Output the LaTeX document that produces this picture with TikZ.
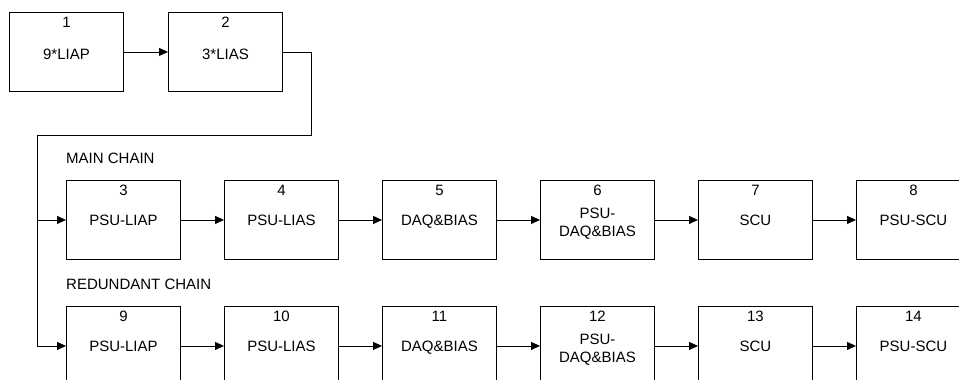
\documentclass[tikz,border=0pt]{standalone}
\usepackage{fontspec}
\setmainfont{Liberation Sans}
\usetikzlibrary{arrows.meta}
\newcommand{\bxt}[2]{\raisebox{#1}[\height][\depth]{\begin{tabular}{@{}c@{}}#2\end{tabular}}}
\tikzset{
  blk/.style={draw=black, line width=0.9pt, minimum width=114pt, minimum height=79pt,
    inner sep=0pt, font=\fontsize{15}{18}\selectfont},
  num/.style={label={[anchor=north, inner sep=0pt, yshift=-5pt, font=\fontsize{15}{18}\selectfont]north:#1}},
  conn/.style={line width=0.9pt, -{Triangle[length=9pt,width=8pt]}},
  chainlbl/.style={anchor=west, inner sep=0pt, font=\fontsize{15}{18}\selectfont}
}
\begin{document}
\begin{tikzpicture}[x=1pt,y=1pt]
\useasboundingbox (0,0) rectangle (959,-380);
\clip (0,0) rectangle (959,-380);
\fill[white] (0,0) rectangle (959,-380);
% top row
\node[blk, num=1, anchor=north west] (b1) at (9,-12) {\bxt{-4.2pt}{9*LIAP}};
\node[blk, num=2, anchor=north west] (b2) at (168,-12) {\bxt{-4.2pt}{3*LIAS}};
% labels
\node[chainlbl] (lmain) at (66,-158) {MAIN CHAIN};
\node[chainlbl] (lred) at (66,-284) {REDUNDANT CHAIN};
% main chain
\node[blk, num=3, anchor=north west] (b3) at (66,-180) {\bxt{-2.3pt}{PSU-LIAP}};
\node[blk, num=4, anchor=north west] (b4) at (224,-180) {\bxt{-2.3pt}{PSU-LIAS}};
\node[blk, num=5, anchor=north west] (b5) at (382,-180) {\bxt{-2.3pt}{DAQ\&BIAS}};
\node[blk, num=6, anchor=north west] (b6) at (540,-180) {\bxt{-4.2pt}{PSU-\\DAQ\&BIAS}};
\node[blk, num=7, anchor=north west] (b7) at (698,-180) {\bxt{-2.3pt}{SCU}};
\node[blk, num=8, anchor=north west] (b8) at (856,-180) {\bxt{-2.3pt}{PSU-SCU}};
% redundant chain
\node[blk, num=9, anchor=north west] (b9) at (66,-306) {\bxt{-2.3pt}{PSU-LIAP}};
\node[blk, num=10, anchor=north west] (b10) at (224,-306) {\bxt{-2.3pt}{PSU-LIAS}};
\node[blk, num=11, anchor=north west] (b11) at (382,-306) {\bxt{-2.3pt}{DAQ\&BIAS}};
\node[blk, num=12, anchor=north west] (b12) at (540,-306) {\bxt{-4.2pt}{PSU-\\DAQ\&BIAS}};
\node[blk, num=13, anchor=north west] (b13) at (698,-306) {\bxt{-2.3pt}{SCU}};
\node[blk, num=14, anchor=north west] (b14) at (856,-306) {\bxt{-2.3pt}{PSU-SCU}};
% connectors
\draw[conn] (b1) -- (b2);
\coordinate (cr) at (311,-135);
\coordinate (cl) at (37,-135);
\draw[conn] (b2.east) -| (cr) -- (cl) |- (b3.west);
\draw[conn] (cl) |- (b9.west);
\draw[conn] (b3) -- (b4);
\draw[conn] (b4) -- (b5);
\draw[conn] (b5) -- (b6);
\draw[conn] (b6) -- (b7);
\draw[conn] (b7) -- (b8);
\draw[conn] (b9) -- (b10);
\draw[conn] (b10) -- (b11);
\draw[conn] (b11) -- (b12);
\draw[conn] (b12) -- (b13);
\draw[conn] (b13) -- (b14);
\end{tikzpicture}
\end{document}
